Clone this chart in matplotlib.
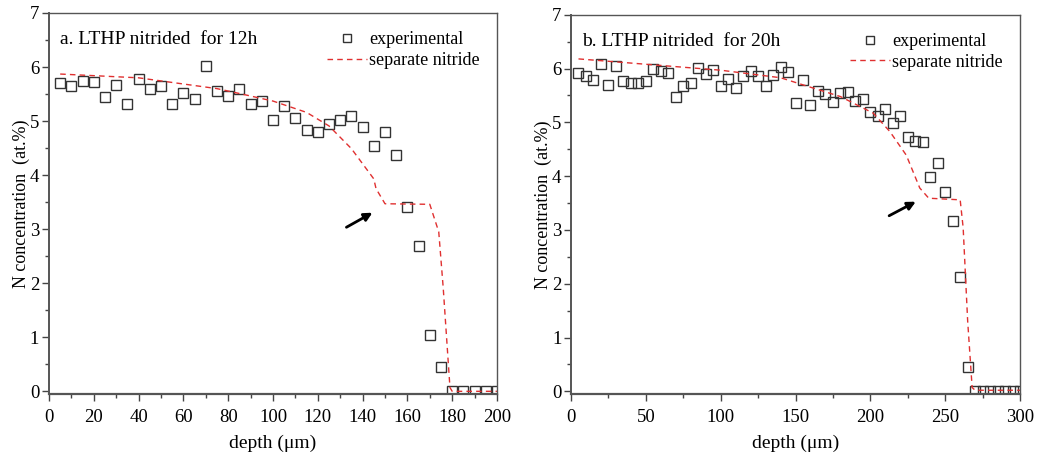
import matplotlib
matplotlib.use('Agg')
import matplotlib.pyplot as plt

plt.rcParams['font.family'] = ['Liberation Serif', 'DejaVu Serif']

# panel a: 12h
depth_a = [5, 10, 15, 20, 25, 30, 35, 40, 45, 50, 55, 60, 65, 70, 75, 80, 85, 90, 95, 100,
           105, 110, 115, 120, 125, 130, 135, 140, 145, 150, 155, 160, 165, 170, 175, 180,
           185, 190, 195, 200]
conc_a = [5.70, 5.64, 5.75, 5.72, 5.45, 5.66, 5.31, 5.77, 5.59, 5.64, 5.31, 5.51, 5.40, 6.02,
          5.55, 5.47, 5.60, 5.31, 5.37, 5.02, 5.28, 5.05, 4.84, 4.79, 4.95, 5.02, 5.10, 4.89,
          4.54, 4.79, 4.38, 3.41, 2.69, 1.05, 0.45, 0.0, 0.0, 0.0, 0.0, 0.0]
fit_x_a = [5, 40, 75, 85, 100, 115, 125, 135, 145, 146, 150, 170, 174, 176, 179, 180, 200]
fit_y_a = [5.87, 5.80, 5.60, 5.51, 5.37, 5.16, 4.91, 4.49, 3.93, 3.75, 3.47, 3.46, 2.95,
           1.91, 0.07, 0.0, 0.0]

# panel b: 20h
depth_b = [5, 10, 15, 20, 25, 30, 35, 40, 45, 50, 55, 60, 65, 70, 75, 80, 85, 90, 95, 100,
           105, 110, 115, 120, 125, 130, 135, 140, 145, 150, 155, 160, 165, 170, 175, 180,
           185, 190, 195, 200, 205, 210, 215, 220, 225, 230, 235, 240, 245, 250, 255, 260,
           265, 270, 275, 280, 285, 290, 295, 300]
conc_b = [5.91, 5.86, 5.79, 6.09, 5.70, 6.04, 5.77, 5.73, 5.74, 5.77, 5.99, 5.96, 5.91, 5.47,
          5.68, 5.73, 6.01, 5.90, 5.98, 5.68, 5.80, 5.64, 5.86, 5.95, 5.87, 5.67, 5.88, 6.03,
          5.94, 5.36, 5.79, 5.33, 5.59, 5.52, 5.38, 5.54, 5.56, 5.40, 5.43, 5.20, 5.12, 5.24,
          4.98, 5.12, 4.72, 4.65, 4.63, 3.99, 4.24, 3.71, 3.17, 2.12, 0.46, 0.0, 0.0, 0.0,
          0.0, 0.0, 0.0, 0.0]
fit_x_b = [5, 100, 140, 157, 180, 202, 213, 224, 233, 239, 260, 262, 265, 268, 270, 300]
fit_y_b = [6.18, 5.97, 5.83, 5.68, 5.48, 5.17, 4.83, 4.39, 3.78, 3.59, 3.56, 3.04, 1.31,
           0.07, 0.02, 0.02]

fig = plt.figure(figsize=(10.38, 4.58), dpi=100)
ax1 = fig.add_axes([0.0472, 0.1397, 0.4316, 0.832])
ax2 = fig.add_axes([0.5501, 0.1397, 0.4326, 0.828])

panels = [
    (ax1, depth_a, conc_a, fit_x_a, fit_y_a, 'a. LTHP nitrided  for 12h', 200, 20, 10,
     (131.7, 3.01), (145.5, 3.33)),
    (ax2, depth_b, conc_b, fit_x_b, fit_y_b, 'b. LTHP nitrided  for 20h', 300, 50, 25,
     (210.9, 3.24), (232.0, 3.55)),
]

for ax, dx, dy, fx, fy, title, xmax, major, minor, tail, head in panels:
    ax.plot(dx, dy, linestyle='none', marker='s', markersize=7.5, markerfacecolor='none',
            markeredgecolor='#333333', markeredgewidth=1.0, label='experimental')
    ax.plot(fx, fy, linestyle=(0, (4, 3)), color='#e03030', linewidth=1.0,
            label='separate nitride')
    ax.set_xlim(0, xmax)
    ax.set_ylim(-0.05, 7)
    ax.set_xticks(range(0, xmax + 1, major))
    ax.set_xticks(range(0, xmax + 1, minor), minor=True)
    ax.set_yticks(range(0, 8))
    ax.set_yticks([i + 0.5 for i in range(7)], minor=True)
    ax.tick_params(axis='both', which='major', direction='out', length=5, width=1,
                   color='#444444', labelsize=13.5)
    ax.tick_params(axis='x', which='major', pad=6)
    ax.tick_params(axis='y', which='major', pad=2)
    ax.tick_params(axis='both', which='minor', direction='out', length=3, width=1,
                   color='#444444')
    for s in ax.spines.values():
        s.set_color('#555555')
        s.set_linewidth(1.0)
    ax.spines['bottom'].set_linewidth(1.6)
    ax.spines['left'].set_linewidth(1.4)
    ax.set_xlabel('depth (\u03bcm)', fontsize=14, labelpad=6)
    ax.set_ylabel('N concentration  (at.%)', fontsize=13, labelpad=0)
    ax.text(0.025, 0.93, title, transform=ax.transAxes, fontsize=14, va='center', ha='left')
    ax.annotate('', xy=head, xytext=tail,
                arrowprops=dict(arrowstyle='-|>', color='black', lw=2, mutation_scale=12))
    ax.legend(loc='upper right', bbox_to_anchor=(0.99, 0.985), frameon=False,
              fontsize=13, handlelength=2.2, handletextpad=0.15, labelspacing=0.2,
              borderaxespad=0.3, markerscale=0.75)

fig.savefig('out.png', dpi=100)
